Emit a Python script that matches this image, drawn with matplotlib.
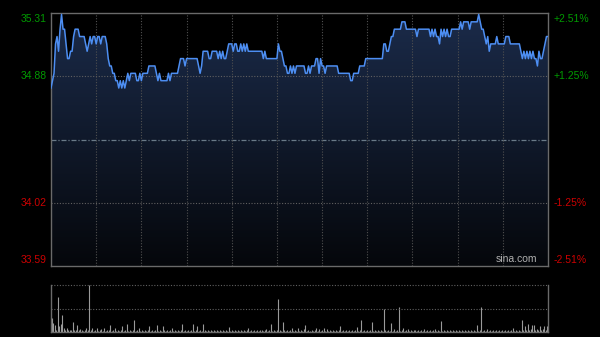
import numpy as np
import matplotlib.pyplot as plt
from matplotlib.colors import LinearSegmentedColormap

# intraday prices, one per minute (HK session, 331 points)
prices = [
    34.80, 34.85, 34.90, 35.10, 35.15, 35.05, 35.20, 35.30, 35.20, 35.20, 35.10, 35.00, 35.00, 35.05,
    35.05, 35.15, 35.20, 35.20, 35.20, 35.15, 35.15, 35.15, 35.15, 35.10, 35.05, 35.10, 35.15, 35.10,
    35.15, 35.15, 35.10, 35.15, 35.15, 35.10, 35.15, 35.15, 35.15, 35.10, 35.00, 34.95, 34.95, 34.90,
    34.90, 34.85, 34.85, 34.80, 34.85, 34.80, 34.85, 34.80, 34.85, 34.90, 34.85, 34.90, 34.90, 34.90,
    # 
    34.90, 34.85, 34.85, 34.90, 34.85, 34.90, 34.90, 34.90, 34.90, 34.95, 34.95, 34.95, 34.95, 34.95,
    34.90, 34.85, 34.90, 34.85, 34.85, 34.85, 34.85, 34.85, 34.90, 34.85, 34.90, 34.90, 34.90, 34.90,
    34.90, 34.95, 35.00, 35.00, 35.00, 34.95, 35.00, 35.00, 35.00, 35.00, 35.00, 35.00, 35.00, 35.00,
    34.95, 34.90, 34.95, 35.05, 35.05, 35.05, 35.05, 35.00, 35.00, 35.05, 35.05, 35.05, 35.05,
    #
    35.00, 35.05, 35.00, 35.05, 35.00, 35.00, 35.05, 35.10, 35.10, 35.10, 35.05, 35.10, 35.10, 35.05,
    35.05, 35.10, 35.05, 35.10, 35.05, 35.10, 35.05, 35.05, 35.05, 35.05, 35.05, 35.05, 35.05, 35.05,
    35.05, 35.05, 35.00, 35.05, 35.00, 35.00, 35.00, 35.00, 35.00, 35.00, 35.00, 35.00, 35.10, 35.05,
    35.05, 35.00, 34.95, 34.95, 34.90, 34.90, 34.95, 34.90, 34.95, 34.90, 34.95, 34.95, 34.95, 34.95,
    #
    34.95, 34.95, 34.90, 34.90, 34.95, 34.90, 34.95, 34.95, 34.95, 35.00, 35.00, 34.90, 35.00, 34.95,
    34.95, 34.90, 34.95, 34.95, 34.95, 34.95, 34.95, 34.95, 34.95, 34.95, 34.90, 34.90, 34.90, 34.90,
    34.90, 34.90, 34.90, 34.90, 34.85, 34.85, 34.90, 34.90, 34.90, 34.90, 34.95, 34.95, 34.95, 34.95,
    35.00, 35.00, 35.00, 35.00, 35.00, 35.00, 35.00, 35.00, 35.00, 35.00, 35.00, 35.00, 35.10,
    #
    35.10, 35.05, 35.05, 35.10, 35.15, 35.15, 35.20, 35.20, 35.20, 35.20, 35.20, 35.25, 35.25, 35.25,
    35.20, 35.20, 35.20, 35.20, 35.20, 35.20, 35.20, 35.15, 35.20, 35.20, 35.20, 35.20, 35.20, 35.20,
    35.20, 35.20, 35.15, 35.20, 35.15, 35.20, 35.15, 35.15, 35.10, 35.20, 35.15, 35.20, 35.15, 35.20,
    35.15, 35.15, 35.20, 35.20, 35.20, 35.20, 35.20, 35.20, 35.25, 35.20, 35.25, 35.25, 35.25,
    #
    35.25, 35.20, 35.25, 35.25, 35.25, 35.25, 35.25, 35.30, 35.25, 35.20, 35.20, 35.15, 35.10, 35.15,
    35.05, 35.10, 35.10, 35.10, 35.10, 35.15, 35.10, 35.10, 35.10, 35.10, 35.10, 35.15, 35.15, 35.15,
    35.10, 35.10, 35.10, 35.10, 35.10, 35.10, 35.10, 35.05, 35.00, 35.05, 35.00, 35.05, 35.00, 35.05,
    35.00, 35.05, 35.00, 35.00, 34.95, 35.05, 35.00, 35.00, 35.05, 35.10, 35.15, 35.15,
]

volumes = [
    14, 9, 7, 2, 35, 6, 8, 17, 4, 2, 4, 2, 2, 2, 10, 2, 2, 7, 2, 3,
    2, 1, 2, 4, 2, 47, 2, 4, 1, 2, 4, 1, 2, 3, 1, 4, 1, 2, 2, 7,
    1, 2, 4, 1, 2, 1, 2, 6, 1, 2, 8, 1, 2, 1, 2, 12, 1, 2, 4, 1,
    2, 1, 2, 1, 2, 6, 1, 2, 1, 2, 7, 1, 2, 1, 6, 2, 1, 2, 1, 2,
    4, 1, 2, 1, 2, 1, 2, 8, 1, 2, 1, 2, 1, 2, 8, 1, 2, 6, 1, 2,
    1, 8, 2, 1, 2, 1, 2, 1, 2, 1, 2, 1, 2, 1, 2, 1, 2, 1, 5, 1,
    2, 1, 2, 1, 2, 1, 2, 1, 2, 1, 2, 4, 1, 2, 1, 2, 1, 2, 1, 2,
    2, 1, 2, 3, 1, 2, 8, 1, 2, 1, 2, 33, 2, 1, 10, 2, 1, 2, 1, 2,
    4, 1, 2, 1, 4, 1, 2, 1, 3, 7, 1, 2, 1, 2, 1, 2, 4, 1, 3, 1,
    2, 4, 1, 3, 1, 2, 1, 2, 1, 2, 1, 2, 6, 1, 2, 1, 2, 1, 2, 1,
    2, 1, 2, 5, 1, 2, 12, 1, 2, 1, 2, 1, 2, 10, 1, 2, 1, 2, 1, 2,
    1, 23, 2, 1, 2, 1, 9, 1, 3, 1, 2, 25, 1, 2, 4, 1, 2, 3, 1, 2,
    1, 2, 2, 1, 2, 1, 2, 1, 3, 1, 2, 1, 2, 1, 2, 3, 1, 2, 1, 11,
    1, 2, 1, 2, 1, 2, 1, 2, 1, 2, 1, 2, 1, 2, 1, 2, 1, 2, 1, 2,
    1, 2, 1, 7, 1, 2, 25, 1, 2, 1, 3, 1, 2, 1, 2, 1, 2, 1, 2, 1,
    2, 1, 2, 1, 2, 1, 2, 4, 1, 2, 1, 2, 1, 12, 2, 6, 2, 8, 2, 3,
    7, 7, 2, 3, 2, 6, 2, 3, 6, 2, 6,
]

price_labels = ['35.31', '34.88', '34.02', '33.59']
price_levels = [35.31, 34.88, 34.02, 33.59]
pct_labels = ['+2.51%', '+1.25%', '-1.25%', '-2.51%']
prev_close = 34.45

plt.rcParams['font.family'] = ['Liberation Sans', 'DejaVu Sans']

fig = plt.figure(figsize=(6, 3.37), dpi=100, facecolor='black')
ax = fig.add_axes([0.085, 0.2107, 0.8283, 0.7507], facecolor='black')
vax = fig.add_axes([0.085, 0.0148, 0.8283, 0.1386], facecolor='black')

t = np.arange(len(prices))
lo, hi = price_levels[-1], price_levels[0]
ax.set_xlim(0, len(prices) - 1)
ax.set_ylim(lo, hi)

# gradient fill under the price line
cmap = LinearSegmentedColormap.from_list('fill', ['#05070b', '#1b2b4a'])
poly = ax.fill_between(t, prices, lo, color='none', lw=0)
grad = ax.imshow(np.linspace(1, 0, 256).reshape(-1, 1), cmap=cmap, aspect='auto',
                 extent=[0, len(prices) - 1, lo, hi], zorder=1)
grad.set_clip_path(poly.get_paths()[0], transform=ax.transData)
ax.plot(t, prices, color='#4d8ef2', lw=1.1, zorder=4)

# grid
for y in [price_levels[1], price_levels[2]]:
    ax.axhline(y, color='#606060', lw=0.8, ls=(0, (1, 1.5)), zorder=2)
ax.axhline(prev_close, color='#6a7a88', lw=0.9, ls=(0, (4, 1.5, 1, 1.5)), zorder=2)
for x in range(30, len(prices) - 1, 30):
    ax.axvline(x, color='#505050', lw=0.8, ls=(0, (1, 1.5)), zorder=2)

for sp in ax.spines.values():
    sp.set_color('#6a6a6a')
    sp.set_linewidth(1)
ax.set_xticks([])
ax.set_yticks([])

offsets = [-4.2, 0, 0, 4.2]
colors = ['#009a00', '#009a00', '#cc0000', '#cc0000']
for lab, pct, y, dy, c in zip(price_labels, pct_labels, price_levels, offsets, colors):
    ax.annotate(lab, xy=(0, y), xycoords=('axes fraction', 'data'), xytext=(-3, dy),
                textcoords='offset points', ha='right', va='center', color=c, fontsize=7.5)
    ax.annotate(pct, xy=(1, y), xycoords=('axes fraction', 'data'), xytext=(3.8, dy),
                textcoords='offset points', ha='left', va='center', color=c, fontsize=7.5)

ax.text(0.978, 0.008, 'sina.com', transform=ax.transAxes, ha='right', va='bottom',
        color='#b0b0b0', fontsize=7.5, zorder=5)

# volume panel
vmax = max(volumes)
vax.vlines(t, 0, volumes, color='#9a9a9a', lw=0.8)
vax.set_xlim(-0.5, len(prices) - 0.5)
vax.set_ylim(0, vmax)
vax.axhline(vmax / 2, color='#606060', lw=0.8, ls=(0, (1, 1.5)))
vax.axhline(vmax, color='#606060', lw=0.8, ls=(0, (1, 1.5)), clip_on=False)
vax.spines['top'].set_visible(False)
for s in ['left', 'right', 'bottom']:
    vax.spines[s].set_color('#6a6a6a')
    vax.spines[s].set_linewidth(1)
vax.set_xticks([])
vax.set_yticks([])

fig.savefig('out.png', dpi=100, facecolor='black')
